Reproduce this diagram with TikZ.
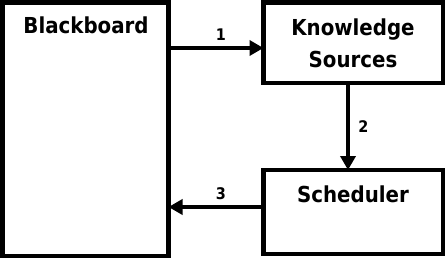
\documentclass[tikz,border=0pt]{standalone}
\usepackage{fontspec}
\setmainfont{DejaVu Sans Condensed}
\usetikzlibrary{arrows.meta}
\begin{document}
\begin{tikzpicture}[x=1pt,y=-1pt,
  box/.style={draw,line width=4.5pt},
  conn/.style={line width=4.5pt,-{Triangle[length=14pt,width=15pt]}},
  lbl/.style={font=\bfseries\fontsize{22}{32}\selectfont,inner sep=0pt},
  num/.style={font=\bfseries\fontsize{16}{18}\selectfont,inner sep=2pt}]
\useasboundingbox (0,0) rectangle (446,259);
\draw[box] (2.5,2.5) rectangle (168.5,256);
\coordinate (bbr1) at (168.5,48);
\coordinate (bbr3) at (168.5,207);
\draw[box] (263.5,2.5) rectangle (443,83);
\draw[box] (263.5,170) rectangle (443,254);
\node[lbl] (bbt) at (86,25) {Blackboard};
\node[lbl,align=center] (kst) at (353,43) {Knowledge\\Sources};
\node[lbl] (sct) at (353,194) {Scheduler};
\coordinate (ksl) at (263.5,48);
\coordinate (ksb) at (348,83);
\coordinate (sct2) at (348,170);
\coordinate (scl) at (263.5,207);
\draw[conn] (bbr1) -- node[num,above=3pt,xshift=5pt] {1} (ksl);
\draw[conn] (ksb) -- node[num,right=6pt] {2} (sct2);
\draw[conn] (scl) -- node[num,above=3pt,xshift=5pt] {3} (bbr3);
\end{tikzpicture}
\end{document}
